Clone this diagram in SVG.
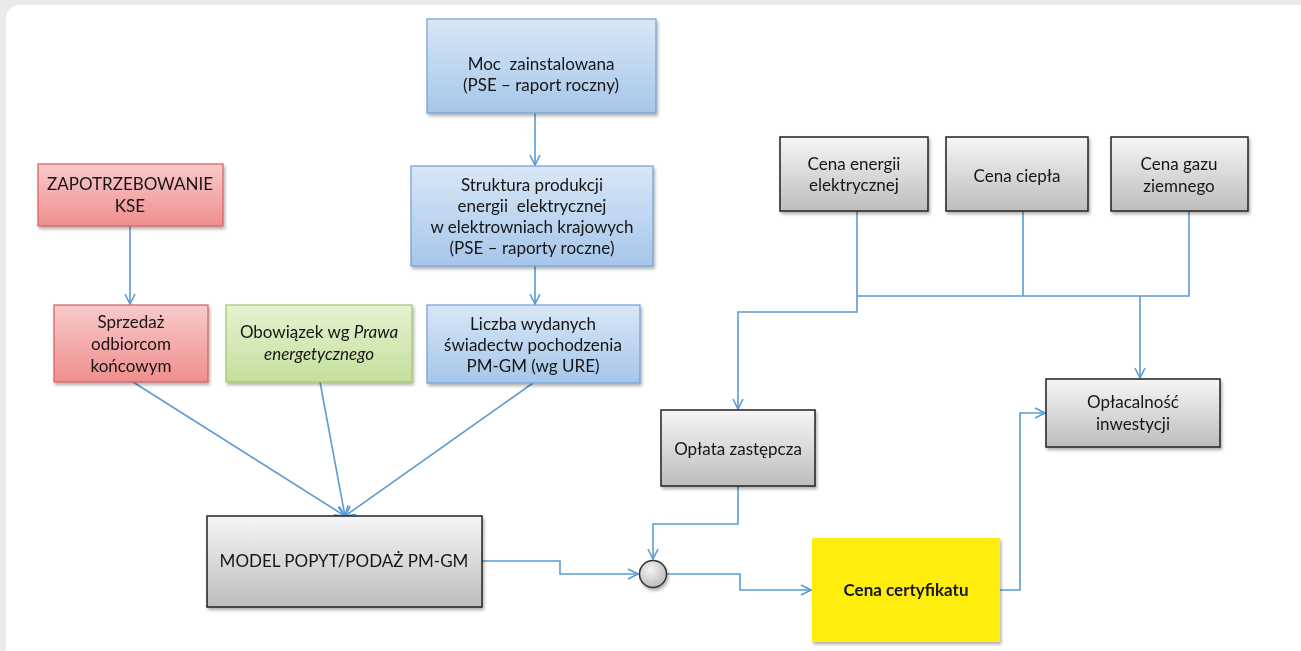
<svg xmlns="http://www.w3.org/2000/svg" width="1301" height="651" viewBox="0 0 1301 651">
<style>
text{font-family:Lato,"Open Sans","Noto Sans",sans-serif;font-size:17px;fill:#161616;text-anchor:middle;white-space:pre}
.conn{fill:none;stroke:#5b9bd5;stroke-width:1.6}
.blue{fill:url(#gBlue);stroke:#6f9fd6;stroke-width:1.2}
.red{fill:url(#gRed);stroke:#d06060;stroke-width:1.2}
.green{fill:url(#gGreen);stroke:#a5c36a;stroke-width:1.2}
.gray{fill:url(#gGray);stroke:#222;stroke-width:1.5}
.yellow{fill:#ffee0f}
</style>
<defs>
<linearGradient id="gBlue" x1="0" y1="0" x2="0" y2="1"><stop offset="0" stop-color="#d8e7f6"/><stop offset="1" stop-color="#a6c6ea"/></linearGradient>
<linearGradient id="gRed" x1="0" y1="0" x2="0" y2="1"><stop offset="0" stop-color="#f8caca"/><stop offset="1" stop-color="#f08e8e"/></linearGradient>
<linearGradient id="gGreen" x1="0" y1="0" x2="0" y2="1"><stop offset="0" stop-color="#e6f2d2"/><stop offset="1" stop-color="#c4df9c"/></linearGradient>
<linearGradient id="gGray" x1="0" y1="0" x2="0" y2="1"><stop offset="0" stop-color="#f6f6f6"/><stop offset="1" stop-color="#bdbdbd"/></linearGradient>
<radialGradient id="gCirc" cx="0.4" cy="0.35" r="0.7"><stop offset="0" stop-color="#f4f4f4"/><stop offset="1" stop-color="#b8b8b8"/></radialGradient>
<filter id="sh" x="-10%" y="-10%" width="125%" height="130%"><feDropShadow dx="1.5" dy="2.5" stdDeviation="1.8" flood-color="#000" flood-opacity="0.3"/></filter>
<marker id="arr" viewBox="0 0 12 12" refX="11" refY="6" markerWidth="12" markerHeight="12" markerUnits="userSpaceOnUse" orient="auto"><path d="M1,1 L11,6 L1,11" fill="none" stroke="#5b9bd5" stroke-width="1.6"/></marker>
</defs>
<rect x="0" y="0" width="1301" height="651" fill="#eaeaec"/>
<rect x="6" y="5" width="1320" height="680" rx="14" fill="#ffffff"/>

<g id="connectors">
<path class="conn" d="M535,113 V165" marker-end="url(#arr)"/>
<path class="conn" d="M535,266 V304" marker-end="url(#arr)"/>
<path class="conn" d="M130,226 V304" marker-end="url(#arr)"/>
<path class="conn" d="M133,382 L345,516" marker-end="url(#arr)"/>
<path class="conn" d="M320,382 L345,516" marker-end="url(#arr)"/>
<path class="conn" d="M533,383 L345,516" marker-end="url(#arr)"/>
<path class="conn" d="M482,561 H560 V574 H638" marker-end="url(#arr)"/>
<path class="conn" d="M738,486 V524 H653 V559" marker-end="url(#arr)"/>
<path class="conn" d="M667,574 H740 V590 H811" marker-end="url(#arr)"/>
<path class="conn" d="M1000,590 H1020 V413 H1045" marker-end="url(#arr)"/>
<path class="conn" d="M857,211 V312 H738 V409" marker-end="url(#arr)"/>
<path class="conn" d="M857,296 H1189 V211"/>
<path class="conn" d="M1023,211 V296"/>
<path class="conn" d="M1140,296 V378" marker-end="url(#arr)"/>
</g>

<g id="moc" filter="url(#sh)"><rect class="blue" x="427" y="19" width="229" height="94"/>
<text x="541" y="70">Moc  zainstalowana</text><text x="541" y="91">(PSE – raport roczny)</text></g>

<g id="struktura" filter="url(#sh)"><rect class="blue" x="411" y="166" width="242" height="100"/>
<text x="532" y="191">Struktura produkcji</text><text x="532" y="212">energii  elektrycznej</text><text x="532" y="233">w elektrowniach krajowych</text><text x="532" y="254">(PSE – raporty roczne)</text></g>

<g id="liczba" filter="url(#sh)"><rect class="blue" x="427" y="305" width="213" height="78"/>
<text x="533" y="330">Liczba wydanych</text><text x="533" y="351">świadectw pochodzenia</text><text x="533" y="372">PM-GM (wg URE)</text></g>

<g id="zapotrzebowanie" filter="url(#sh)"><rect class="red" x="38" y="164" width="185" height="62"/>
<text x="130" y="190">ZAPOTRZEBOWANIE</text><text x="130" y="212">KSE</text></g>

<g id="sprzedaz" filter="url(#sh)"><rect class="red" x="54" y="305" width="154" height="77"/>
<text x="131" y="328">Sprzedaż</text><text x="131" y="350">odbiorcom</text><text x="131" y="372">końcowym</text></g>

<g id="obowiazek" filter="url(#sh)"><rect class="green" x="226" y="305" width="186" height="77"/>
<text x="319" y="338">Obowiązek wg <tspan font-style="italic">Prawa</tspan></text><text x="319" y="360" font-style="italic">energetycznego</text></g>

<g id="model" filter="url(#sh)"><rect class="gray" x="207" y="516" width="275" height="91"/>
<text x="344" y="567">MODEL POPYT/PODAŻ PM-GM</text></g>

<g id="circle" filter="url(#sh)"><circle cx="653" cy="574" r="13.5" fill="url(#gCirc)" stroke="#333" stroke-width="1.5"/></g>

<g id="oplata" filter="url(#sh)"><rect class="gray" x="661" y="410" width="154" height="76"/>
<text x="738" y="455">Opłata zastępcza</text></g>

<g id="certyfikat" filter="url(#sh)"><rect class="yellow" x="812" y="538" width="188" height="104"/>
<text x="906" y="596" font-weight="bold">Cena certyfikatu</text></g>

<g id="oplacalnosc" filter="url(#sh)"><rect class="gray" x="1046" y="379" width="174" height="68"/>
<text x="1133" y="408">Opłacalność</text><text x="1133" y="430">inwestycji</text></g>

<g id="energia" filter="url(#sh)"><rect class="gray" x="780" y="137" width="148" height="74"/>
<text x="854" y="170">Cena energii</text><text x="854" y="191">elektrycznej</text></g>

<g id="cieplo" filter="url(#sh)"><rect class="gray" x="946" y="137" width="142" height="74"/>
<text x="1017" y="182">Cena ciepła</text></g>

<g id="gaz" filter="url(#sh)"><rect class="gray" x="1111" y="137" width="137" height="74"/>
<text x="1179" y="170">Cena gazu</text><text x="1179" y="192">ziemnego</text></g>
</svg>
